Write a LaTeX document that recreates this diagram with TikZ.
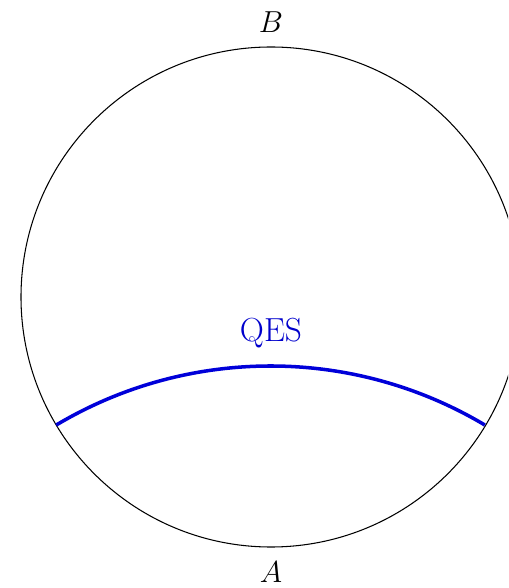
\documentclass[tikz,border=0pt]{standalone}
\usepackage{amsmath,amssymb}
\usepackage{tikz}

\begin{document}
\begin{tikzpicture}[every node/.style={inner sep=0pt,anchor=center,font=\fontsize{18}{22}\selectfont}]
	\useasboundingbox (-5.42,-5.82) rectangle (4.74,5.94);
	\clip (-5.42,-5.82) rectangle (4.74,5.94);
	
	\draw[line width=0.6pt] (0,0) circle (5);
	
	\node (b) at (0,5.5) {$B$};
	\node (a) at (0,-5.5) {$A$};
	
	\coordinate (qesl) at (210.8:5);
	\coordinate (qesr) at (-30.8:5);
	\draw[blue!85!black, line width=2pt] (qesl) arc[start angle=120.8, end angle=59.2, radius=8.37];
	\node[blue!80!black, font=\fontsize{19}{23}\selectfont] (qes) at (0,-0.72) {QES};
\end{tikzpicture}
\end{document}
